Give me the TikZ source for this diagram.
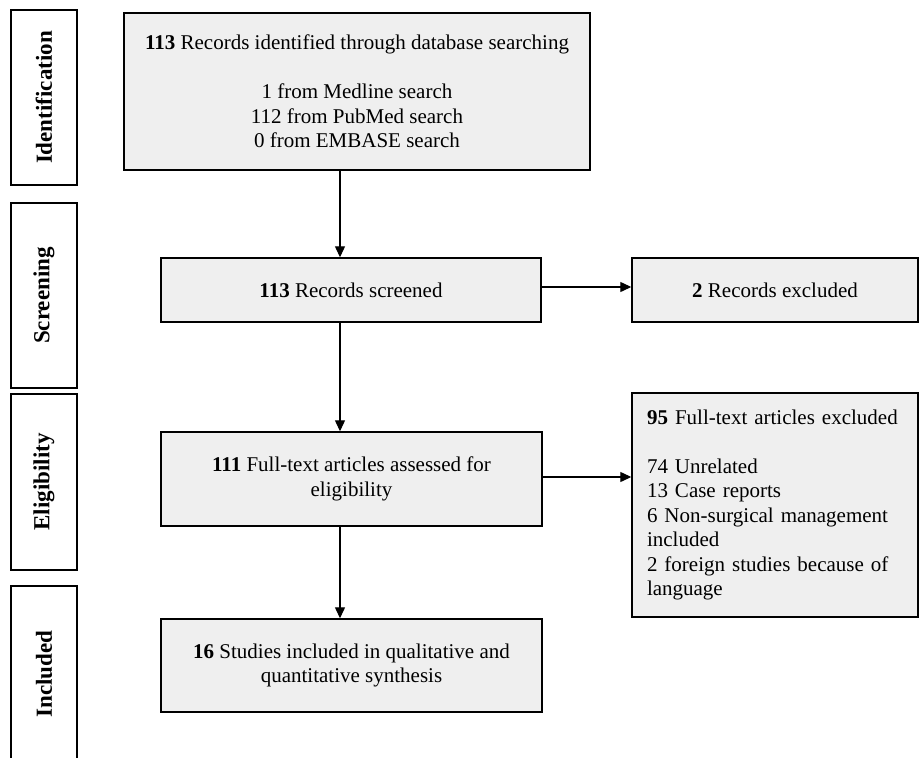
\documentclass[tikz,border=0pt]{standalone}
\usepackage{fontspec}
\setmainfont{Liberation Serif}
\usetikzlibrary{arrows.meta,calc}
\definecolor{boxgray}{RGB}{239,239,239}
\tikzset{
  phase/.style={draw=black, line width=1.4pt, fill=white, minimum width=66pt, inner sep=0pt,
    font=\fontsize{23}{26}\selectfont\bfseries},
  flowbox/.style={draw=black, line width=1.4pt, fill=boxgray, inner sep=0pt, align=center,
    font=\fontsize{21}{24.5}\selectfont},
  conn/.style={line width=1.2pt, -{Triangle[length=11pt,width=10pt]}}
}
\begin{document}
\begin{tikzpicture}[x=1pt,y=-1pt]
\useasboundingbox (0,0) rectangle (919,758);
% phase labels
\node[phase, minimum height=175pt] (pid) at (44,97.5) {\rotatebox{90}{Identification}};
\node[phase, minimum height=185pt] (pscr) at (44,295.5) {\rotatebox{90}{Screening}};
\node[phase, minimum height=176pt] (pel) at (44,482) {\rotatebox{90}{Eligibility}};
\node[phase, minimum height=176pt] (pin) at (44,674) {\rotatebox{90}{Included}};
% flow boxes
\node[flowbox, minimum width=466pt, minimum height=157pt] (n1) at (357,91.5)
  {\textbf{113} Records identified through database searching\\[24.5pt]
   1 from Medline search\\112 from PubMed search\\0 from EMBASE search};
\node[flowbox, minimum width=380pt, minimum height=64pt] (n2) at (351,290)
  {\textbf{113} Records screened};
\node[flowbox, minimum width=286pt, minimum height=64pt] (n3) at (775,290)
  {\textbf{2} Records excluded};
\node[flowbox, minimum width=381pt, minimum height=94pt] (n4) at (351.5,479)
  {\textbf{111} Full-text articles assessed for\\eligibility};
\node[flowbox, align=left, text width=256pt, inner xsep=15pt, minimum height=224pt] (n5) at (775,505)
  {\textbf{95} Full-text articles excluded\\[24.5pt]
   74 Unrelated\\13 Case reports\\6 Non-surgical management\\included\\2 foreign studies because of\\language};
\node[flowbox, minimum width=381pt, minimum height=93pt] (n6) at (351.5,665.5)
  {\textbf{16} Studies included in qualitative and\\quantitative synthesis};
% connectors
\coordinate (ax) at (340,0);
\draw[conn] (n1.south -| ax) -- (n2.north -| ax);
\draw[conn] (n2.south -| ax) -- (n4.north -| ax);
\draw[conn] (n4.south -| ax) -- (n6.north -| ax);
\draw[conn] ($(n2.east)+(0,-3)$) -- ($(n2.east -| n3.west)+(0,-3)$);
\draw[conn] ($(n4.east)+(0,-2)$) -- ($(n4.east -| n5.west)+(0,-2)$);
\end{tikzpicture}
\end{document}
